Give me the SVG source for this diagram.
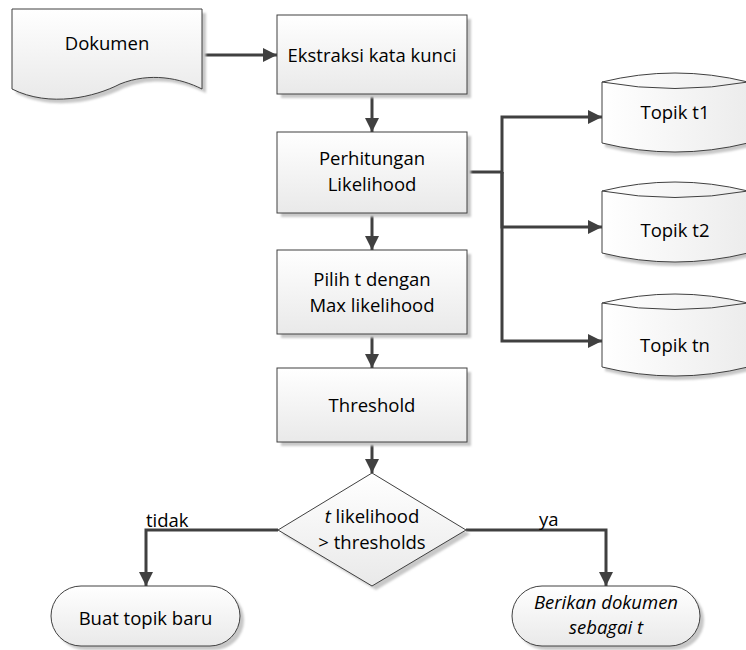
<svg xmlns="http://www.w3.org/2000/svg" width="746" height="650" viewBox="0 0 746 650">
  <defs>
    <linearGradient id="gv" x1="0" y1="0" x2="0" y2="1">
      <stop offset="0" stop-color="#ffffff"/>
      <stop offset="1" stop-color="#e9e9e9"/>
    </linearGradient>
    <linearGradient id="gh" x1="0" y1="0" x2="1" y2="0">
      <stop offset="0" stop-color="#ffffff"/>
      <stop offset="1" stop-color="#ececec"/>
    </linearGradient>
    <filter id="soft" x="-10%" y="-10%" width="120%" height="130%">
      <feGaussianBlur stdDeviation="1.2"/>
    </filter>
    <marker id="arr" markerUnits="userSpaceOnUse" markerWidth="16" markerHeight="16" viewBox="0 0 16 16" refX="14" refY="8" orient="auto">
      <path d="M0,1 L14,8 L0,15 Z" fill="#404040"/>
    </marker>
  </defs>
  <style>
    .shape { stroke: #404040; stroke-width: 1; fill: url(#gv); }
    .cyl { stroke: #404040; stroke-width: 1; fill: url(#gh); }
    .shadow { fill: #c8c8c8; filter: url(#soft); }
    .edge { fill: none; stroke: #404040; stroke-width: 3; }
    .arrow { marker-end: url(#arr); }
    text { font-family: "Open Sans", "Noto Sans", "Liberation Sans", sans-serif; font-size: 18.5px; fill: #000; }
    .c { text-anchor: middle; }
    .i { font-style: italic; }
  </style>

  <!-- connectors -->
  <g id="connectors">
    <path class="edge arrow" d="M201,55 H277"/>
    <path class="edge arrow" d="M372,94 V132"/>
    <path class="edge arrow" d="M372,213 V250"/>
    <path class="edge arrow" d="M372,334 V368"/>
    <path class="edge arrow" d="M372,442 V473"/>
    <path class="edge arrow" d="M467,172 H502 V117 H602"/>
    <path class="edge arrow" d="M502,172 V227 H602"/>
    <path class="edge arrow" d="M502,172 V341 H602"/>
    <path class="edge arrow" d="M278,530 H146 V586"/>
    <path class="edge arrow" d="M466,530 H606 V586"/>
    <text x="146" y="527">tidak</text>
    <text x="539" y="526">ya</text>
  </g>

  <!-- document input -->
  <g id="dokumen">
    <path class="shadow" d="M16,13 H206 V93 C184,82 154,76 124,88 C99,101 54,112 16,93 Z"/>
    <path class="shape" d="M12,9 H202 V89 C180,78 150,72 120,84 C95,97 50,108 12,89 Z"/>
    <text class="c" x="107" y="50">Dokumen</text>
  </g>

  <g id="ekstraksi">
    <rect class="shadow" x="281" y="19" width="190" height="79"/>
    <rect class="shape" x="277" y="15" width="190" height="79"/>
    <text class="c" x="372" y="62">Ekstraksi kata kunci</text>
  </g>

  <g id="perhitungan">
    <rect class="shadow" x="281" y="136" width="190" height="81"/>
    <rect class="shape" x="277" y="132" width="190" height="81"/>
    <text class="c" x="372" y="165">Perhitungan</text>
    <text class="c" x="372" y="191">Likelihood</text>
  </g>

  <g id="pilih">
    <rect class="shadow" x="281" y="254" width="190" height="84"/>
    <rect class="shape" x="277" y="250" width="190" height="84"/>
    <text class="c" x="372" y="286">Pilih t dengan</text>
    <text class="c" x="372" y="312">Max likelihood</text>
  </g>

  <g id="threshold">
    <rect class="shadow" x="281" y="372" width="190" height="74"/>
    <rect class="shape" x="277" y="368" width="190" height="74"/>
    <text class="c" x="372" y="412">Threshold</text>
  </g>

  <g id="keputusan">
    <path class="shadow" d="M376,477 L470,534 L376,590 L282,534 Z"/>
    <path class="shape" d="M372,473 L466,530 L372,586 L278,530 Z"/>
    <text class="c" x="372" y="523"><tspan class="i">t</tspan> likelihood</text>
    <text class="c" x="372" y="549">&gt; thresholds</text>
  </g>

  <!-- topic stores -->
  <g id="topik-t1">
    <path class="shadow" d="M605,86 Q675,68 750,86 V147 Q675,165 605,147 Z"/>
    <path class="cyl" d="M602,82 Q675,64 748,82 V143 Q675,161 602,143 Z"/>
    <path fill="none" stroke="#404040" stroke-width="1" d="M602,82 Q675,95 748,82"/>
    <text class="c" x="675" y="119">Topik t1</text>
  </g>

  <g id="topik-t2">
    <path class="shadow" d="M605,195 Q675,177 750,195 V257 Q675,275 605,257 Z"/>
    <path class="cyl" d="M602,191 Q675,173 748,191 V253 Q675,271 602,253 Z"/>
    <path fill="none" stroke="#404040" stroke-width="1" d="M602,191 Q675,204 748,191"/>
    <text class="c" x="675" y="237">Topik t2</text>
  </g>

  <g id="topik-tn">
    <path class="shadow" d="M605,307 Q675,289 750,307 V371 Q675,389 605,371 Z"/>
    <path class="cyl" d="M602,303 Q675,285 748,303 V367 Q675,385 602,367 Z"/>
    <path fill="none" stroke="#404040" stroke-width="1" d="M602,303 Q675,316 748,303"/>
    <text class="c" x="675" y="352">Topik tn</text>
  </g>

  <!-- terminators -->
  <g id="buat-topik">
    <rect class="shadow" x="55" y="590" width="189" height="60" rx="30"/>
    <rect class="shape" x="51" y="586" width="189" height="60" rx="30"/>
    <text class="c" x="145.5" y="625">Buat topik baru</text>
  </g>

  <g id="berikan">
    <rect class="shadow" x="516" y="590" width="188" height="60" rx="30"/>
    <rect class="shape" x="512" y="586" width="188" height="60" rx="30"/>
    <text class="c i" x="606" y="609">Berikan dokumen</text>
    <text class="c i" x="606" y="634">sebagai t</text>
  </g>
</svg>
